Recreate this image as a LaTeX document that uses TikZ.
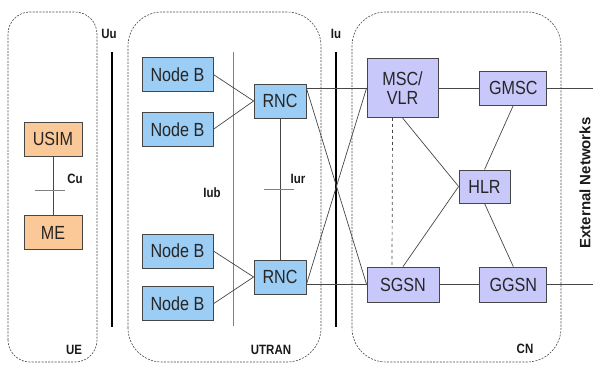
\documentclass[tikz,border=0pt]{standalone}
\usepackage{fontspec}
\setmainfont{Liberation Sans}[FakeStretch=0.85]
\newfontfamily\widesans{Liberation Sans}
\usetikzlibrary{positioning}
\definecolor{ueorange}{RGB}{251,200,152}
\definecolor{ranblue}{RGB}{155,205,245}
\definecolor{cnlilac}{RGB}{200,200,250}
\definecolor{edgegray}{RGB}{70,70,70}

\begin{document}
\begin{tikzpicture}[x=1pt,y=1pt,
    box/.style={draw=edgegray,line width=0.8pt,inner sep=0pt,text=black!85,
      align=center,font=\fontsize{19}{19}\selectfont},
    uebox/.style={box,fill=ueorange,minimum width=58pt,minimum height=34pt},
    ranbox/.style={box,fill=ranblue,minimum height=34pt},
    cnbox/.style={box,fill=cnlilac,minimum height=35pt},
    zonebox/.style={draw=edgegray,line width=0.6pt,dash pattern=on 2pt off 1.3pt},
    iface/.style={font=\bfseries\fontsize{13.5}{14}\selectfont,text=black!90},
    link/.style={draw=edgegray,line width=0.7pt},
    bar/.style={line width=2.6pt,black}]
  \useasboundingbox (0,0) rectangle (593,366);

  \draw[zonebox,rounded corners=22pt] (8,4) rectangle (97,354);
  \draw[zonebox,rounded corners=34pt] (128,4) rectangle (321,354);
  \draw[zonebox,rounded corners=34pt] (352,4) rectangle (561,354);

  \node[uebox] (usim) at (53,227) {USIM};
  \node[uebox,below=59pt of usim] (me) {ME};

  \node[ranbox,minimum width=71pt] (nb1) at (177.5,291.5) {Node B};
  \node[ranbox,minimum width=71pt,below=20pt of nb1] (nb2) {Node B};
  \node[ranbox,minimum width=71pt] (nb3) at (177.5,115) {Node B};
  \node[ranbox,minimum width=71pt,below=18pt of nb3] (nb4) {Node B};
  \node[ranbox,minimum width=52pt] (rnc1) at (280,265) {RNC};
  \node[ranbox,minimum width=52pt] (rnc2) at (280,89) {RNC};

  \node[cnbox,minimum width=71pt,minimum height=59pt] (msc) at (402.5,278) {MSC/\\VLR};
  \node[cnbox,minimum width=67pt,minimum height=34pt,right=41pt of msc] (gmsc) {GMSC};
  \node[cnbox,minimum width=51pt,minimum height=33pt] (hlr) at (484.5,179.5) {HLR};
  \node[cnbox,minimum width=72pt] (sgsn) at (403,81.5) {SGSN};
  \node[cnbox,minimum width=67pt,right=40pt of sgsn] (ggsn) {GGSN};

  \coordinate (ext1) at (593,278);
  \coordinate (ext2) at (593,81.5);

  \draw[bar] (112,314) -- (112,39);
  \draw[bar] (336,314) -- (336,39);
  \draw[draw=gray,line width=0.8pt] (233,314) -- (233,40);

  \node[iface] (uu) at (109,332) {Uu};
  \node[iface] (iu) at (336,332) {Iu};
  \node[iface] (iub) at (212,173) {Iub};
  \node[iface] (iur) at (298,187) {Iur};
  \node[iface] (cu) at (75,187) {Cu};
  \node[iface] (ue) at (74,16) {UE};
  \node[iface] (utran) at (271,16) {UTRAN};
  \node[iface] (cn) at (525,17) {CN};
  \node[iface,font=\widesans\bfseries\fontsize{15}{15}\selectfont,rotate=90] (extnet) at (585,183) {External Networks};

  \draw[link] (usim) -- (me);
  \draw[draw=gray,line width=0.8pt] (35,176) -- (65,176);
  \draw[link] (rnc1) -- (rnc2);
  \draw[draw=gray,line width=0.8pt] (264,177) -- (294,177);

  \draw[link] (nb1.east) -- (rnc1.west);
  \draw[link] (nb2.east) -- (rnc1.west);
  \draw[link] (nb3.east) -- (rnc2.west);
  \draw[link] (nb4.east) -- (rnc2.west);

  \draw[link] (rnc1.east |- msc.west) -- (msc.west);
  \draw[link] (rnc1.east |- msc.west) -- (sgsn.west);
  \draw[link] (rnc2.east |- sgsn.west) -- (msc.west);
  \draw[link] (rnc2.east |- sgsn.west) -- (sgsn.west);

  \draw[link,dashed] ([xshift=-10pt]msc.south) -- ([xshift=-11pt]sgsn.north);
  \draw[link] (msc.south) -- (hlr.west);
  \draw[link] (sgsn.north) -- (hlr.west);
  \draw[link] (gmsc.south) -- (hlr.north);
  \draw[link] (hlr.south) -- (ggsn.north);
  \draw[link] (msc.east) -- (gmsc.west |- msc.east);
  \draw[link] (sgsn) -- (ggsn);
  \draw[link] (gmsc.east) -- (ext1);
  \draw[link] (ggsn.east) -- (ext2);
\end{tikzpicture}
\end{document}
